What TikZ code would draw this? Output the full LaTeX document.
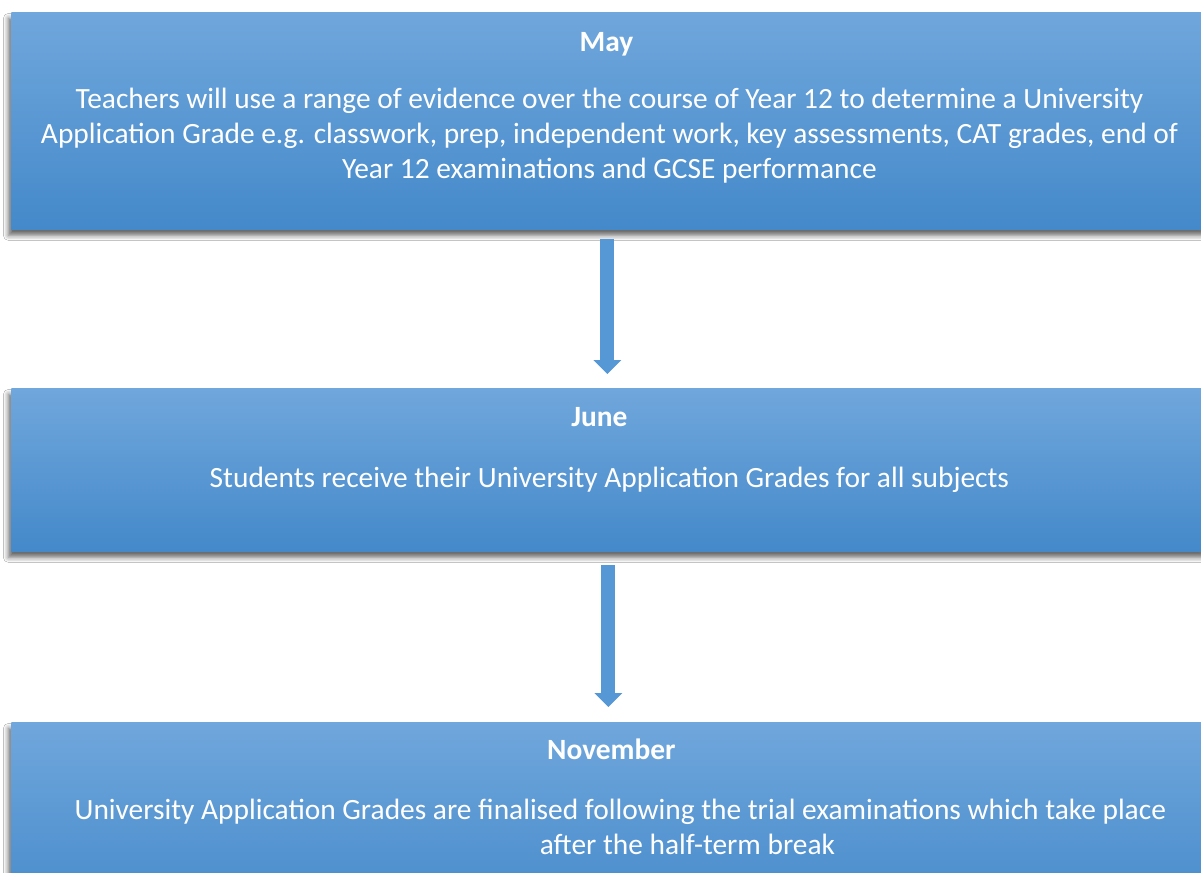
\documentclass[tikz,border=0pt]{standalone}
\usepackage{fontspec}
\setmainfont{Carlito}
\usetikzlibrary{arrows.meta,calc,positioning,shadows.blur}
\definecolor{BoxTop}{RGB}{112,167,220}
\definecolor{BoxBottom}{RGB}{68,137,202}
\definecolor{ArrowBlue}{RGB}{86,152,213}

\begin{document}
\begin{tikzpicture}[x=0.5pt,y=-0.5pt,>=Latex,
  stagebox/.style={rectangle,top color=BoxTop,bottom color=BoxBottom,minimum width=598pt,
    inner sep=0pt,anchor=north west,
    blur shadow={shadow xshift=-1.5pt,shadow yshift=-3pt,shadow blur radius=2.5pt,shadow opacity=60}},
  stagetitle/.style={text=white,font=\fontsize{14.7}{17.5}\selectfont\bfseries,anchor=base,inner sep=0pt},
  stagetext/.style={text=white,align=center,font=\fontsize{14.7}{17.5}\selectfont,anchor=base,inner sep=0pt},
  flowarrow/.style={line width=7pt,ArrowBlue,-{Triangle[width=13.5pt,length=7pt]}}]
\clip (0,0) rectangle (1201,873);
\fill[white] (0,0) rectangle (1201,873);
% stages
\node[stagebox,minimum height=108.5pt] (may) at (11,12) {};
\node[stagebox,minimum height=81.5pt] (june) at (11,388) {};
\node[stagebox,minimum height=100pt] (nov) at (11,722) {};
% titles and texts (base = last line)
\node[stagetitle] (maytitle) at ($(may.north)+(-3,39)$) {May};
\node[stagetext] (maytext) at ($(may.north)+(0,166)$) {Teachers will use a range of evidence over the course of Year 12 to determine a University\\
  Application Grade e.g. classwork, prep, independent work, key assessments, CAT grades, end of\\
  Year 12 examinations and GCSE performance};
\node[stagetitle] (junetitle) at ($(june.north)+(-10,38)$) {June};
\node[stagetext] (junetext) at ($(june.north)+(0,99)$) {Students receive their University Application Grades for all subjects};
\node[stagetitle] (novtitle) at ($(nov.north)+(2,37)$) {November};
\node[stagetext] (novtext) at ($(nov.north)+(11,132)$) {University Application Grades are finalised following the trial examinations which take place\\
  \hspace*{67pt}after the half-term break};
% arrows
\draw[flowarrow] ($(may.south)+(-2,9)$) -- ($(june.north)+(-2,-14)$);
\draw[flowarrow] ($(june.south)+(-1,13)$) -- ($(nov.north)+(-1,-15)$);
\end{tikzpicture}
\end{document}
